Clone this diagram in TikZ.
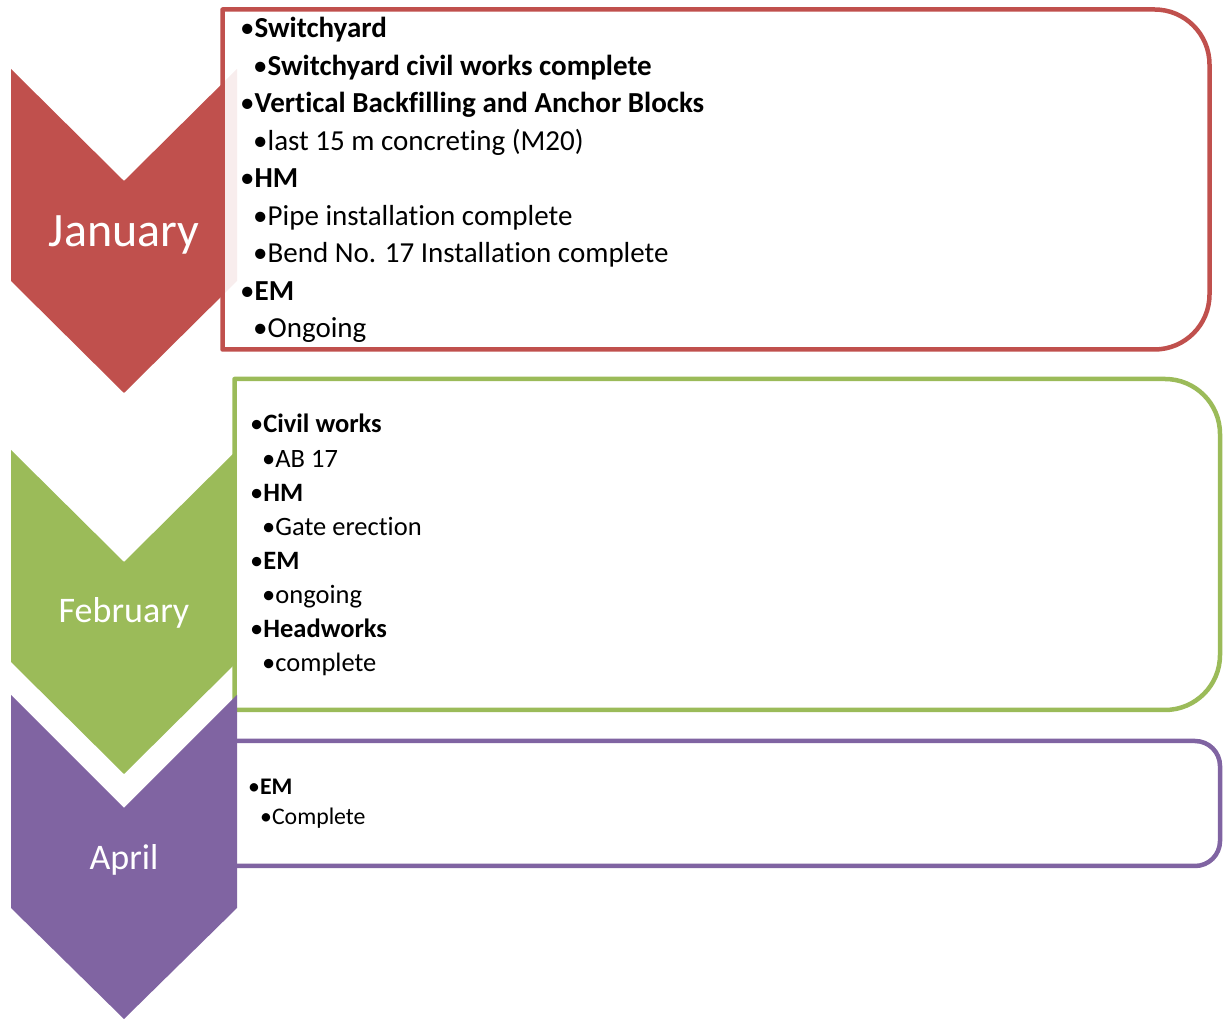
\documentclass[tikz,border=0pt]{standalone}
\usepackage{fontspec}
\setmainfont{Carlito}[Ligatures={NoCommon,NoRare}]
\definecolor{janred}{HTML}{C0504D}
\definecolor{febgreen}{HTML}{9BBB59}
\definecolor{aprpurple}{HTML}{8064A2}
\tikzset{
  frame/.style={line width=4.5pt, fill=white, fill opacity=0.9, draw opacity=1, line join=round},
  janitem/.style={anchor=base west, inner sep=0pt, font=\fontsize{29}{34}\selectfont},
  febitem/.style={anchor=base west, inner sep=0pt, font=\fontsize{26.5}{31}\selectfont},
  apritem/.style={anchor=base west, inner sep=0pt, font=\fontsize{23.8}{28}\selectfont},
  monthbig/.style={anchor=base, inner sep=0pt, text=white, font=\fontsize{48}{56}\selectfont},
  monthmid/.style={anchor=base, inner sep=0pt, text=white, font=\fontsize{36}{42}\selectfont},
}
\begin{document}
\begin{tikzpicture}[x=1pt,y=1pt]
\useasboundingbox (0,0) rectangle (1228,1019);
% January
\fill[janred] (11,950) -- (124,838) -- (237,950) -- (237,738) -- (124,626) -- (11,738) -- cycle;
\draw[frame, draw=janred] (222.5,1009.5) -- (1154.5,1009.5) arc[start angle=90,end angle=0,radius=55] -- (1209.5,724.5) arc[start angle=0,end angle=-90,radius=55] -- (222.5,669.5) -- cycle;
\node[monthbig] (jan) at (124,772) {January};
\node[janitem] (j1) at (240,981) {•\textbf{Switchyard}};
\node[janitem] (j2) at (253,943.5) {•\textbf{Switchyard civil works complete}};
\node[janitem] (j3) at (240,906) {•\textbf{Vertical Backfilling and Anchor Blocks}};
\node[janitem] (j4) at (253,868.5) {•last 15 m concreting (M20)};
\node[janitem] (j5) at (240,831) {•\textbf{HM}};
\node[janitem] (j6) at (253,793.5) {•Pipe installation complete};
\node[janitem] (j7) at (253,756) {•Bend No. 17 Installation complete};
\node[janitem] (j8) at (240,718.5) {•\textbf{EM}};
\node[janitem] (j9) at (253,681) {•Ongoing};
% February
\fill[febgreen] (11,569) -- (124,457) -- (237,569) -- (237,357) -- (124,245) -- (11,357) -- cycle;
\draw[frame, draw=febgreen] (234.5,640) -- (1165,640) arc[start angle=90,end angle=0,radius=55] -- (1220,364) arc[start angle=0,end angle=-90,radius=55] -- (234.5,309) -- cycle;
\node[monthmid] (feb) at (124,396) {February};
\node[febitem] (f1) at (250,586) {•\textbf{Civil works}};
\node[febitem] (f2) at (262,551.9) {•AB 17};
\node[febitem] (f3) at (250,517.7) {•\textbf{HM}};
\node[febitem] (f4) at (262,483.6) {•Gate erection};
\node[febitem] (f5) at (250,449.4) {•\textbf{EM}};
\node[febitem] (f6) at (262,415.3) {•ongoing};
\node[febitem] (f7) at (250,381.1) {•\textbf{Headworks}};
\node[febitem] (f8) at (262,347) {•complete};
% April
\draw[frame, draw=aprpurple] (234,278) -- (1195,278) arc[start angle=90,end angle=0,radius=25] -- (1220,178) arc[start angle=0,end angle=-90,radius=25] -- (234,153) -- cycle;
\fill[aprpurple] (11,324) -- (124,211) -- (237,324) -- (237,111) -- (124,0) -- (11,111) -- cycle;
\node[monthmid] (apr) at (124,149) {April};
\node[apritem] (a1) at (248,224) {•\textbf{EM}};
\node[apritem] (a2) at (260,194) {•Complete};
\end{tikzpicture}
\end{document}
